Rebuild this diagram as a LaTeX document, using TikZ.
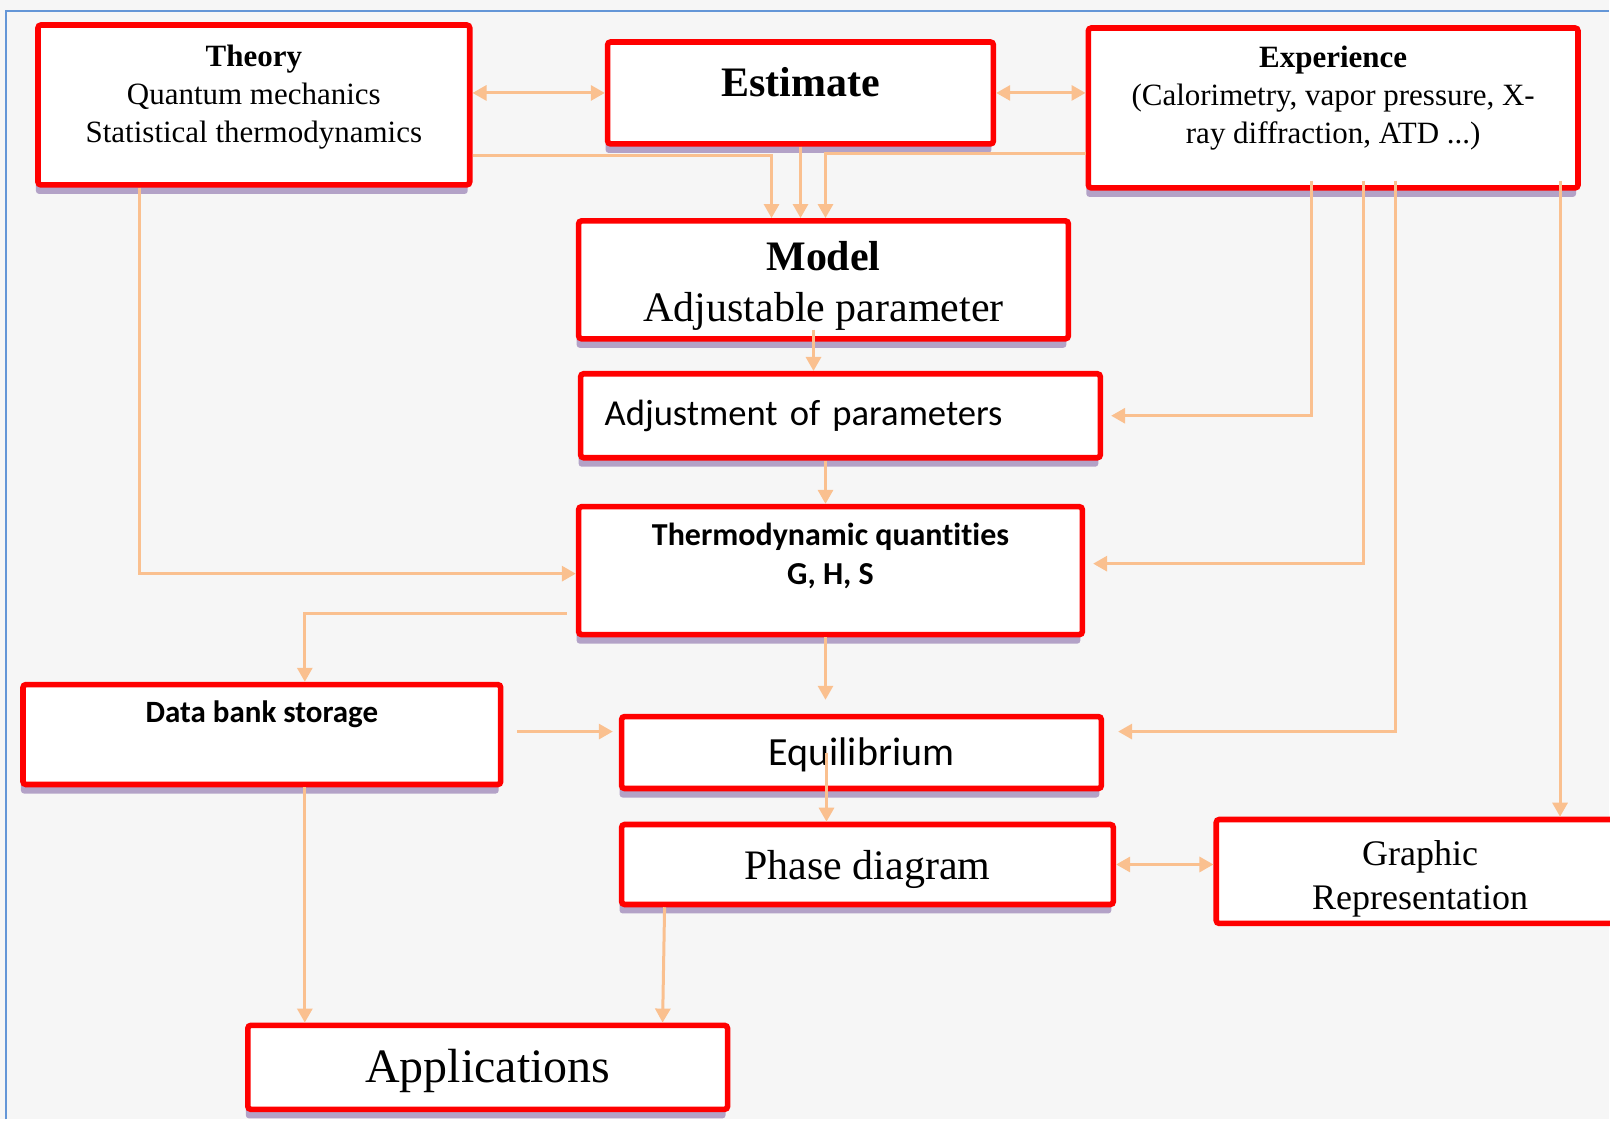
\documentclass[tikz,border=0pt]{standalone}
\usepackage{fontspec}
\setmainfont{Liberation Serif}
\newfontfamily\calibri[Ligatures=NoCommon]{Carlito}
\usetikzlibrary{arrows.meta,shadows}
\definecolor{boxred}{RGB}{255,0,0}
\definecolor{linkorange}{RGB}{250,192,143}
\definecolor{shadowpurple}{RGB}{179,162,199}
\definecolor{pagegray}{RGB}{246,246,246}
\definecolor{frameblue}{RGB}{100,150,215}

\begin{document}
\begin{tikzpicture}[x=0.5pt,y=-0.5pt,
    flatbox/.style={draw=boxred, line width=2.8pt, rounded corners=1.5pt, fill=white,
      inner sep=0pt, align=center},
    box/.style={flatbox,
      drop shadow={shadow xshift=-1pt, shadow yshift=-4.5pt, fill=shadowpurple, opacity=1}},
    link/.style={draw=linkorange, line width=1.5pt, -{Triangle[length=7pt,width=7.5pt]}},
    dlink/.style={link, {Triangle[length=7pt,width=7.5pt]}-{Triangle[length=7pt,width=7.5pt]}}]
    \fill[pagegray] (0,0) rectangle (1610,1120);
    \draw[frameblue, line width=1pt] (6,1120) -- (6,11) -- (1610,11);
    \useasboundingbox (0,0) rectangle (1610,1120);

    \node[box, minimum width=216pt, minimum height=80pt, text depth=11pt,
      font=\fontsize{15.5}{19}\selectfont] (theory) at (254,105)
      {\textbf{Theory}\\Quantum mechanics\\Statistical thermodynamics};
    \node[box, minimum width=193pt, minimum height=51pt, text depth=11pt,
      font=\fontsize{21}{25}\selectfont\bfseries] (estimate) at (801,93) {Estimate};
    \node[box, minimum width=245pt, minimum height=80pt, text depth=13pt,
      font=\fontsize{15.5}{19}\selectfont] (experience) at (1334,108)
      {\textbf{Experience}\\(Calorimetry, vapor pressure, X-\\ray diffraction, ATD ...)};
    \node[box, minimum width=245pt, minimum height=59pt, text height=46pt,
      font=\fontsize{21}{25.5}\selectfont] (model) at (824,280)
      {\textbf{Model}\\Adjustable parameter};
    \node[box, minimum height=42pt, inner xsep=12pt, text width=236pt, align=left,
      font=\calibri\fontsize{18.3}{22}\selectfont] (adjust) at (841,416)
      {Adjustment of parameters};
    \node[box, minimum width=252pt, minimum height=64pt, text depth=17pt,
      font=\calibri\bfseries\fontsize{16}{19.5}\selectfont] (thermo) at (831,571)
      {Thermodynamic quantities\\G, H, S};
    \node[box, minimum width=239pt, minimum height=50pt, text depth=23pt,
      font=\calibri\bfseries\fontsize{15.5}{19}\selectfont] (databank) at (262,735)
      {Data bank storage};
    \node[box, minimum width=240pt, minimum height=36pt, text depth=1pt,
      font=\calibri\fontsize{20}{24}\selectfont] (equil) at (862,753) {Equilibrium};
    \node[box, minimum width=246pt, minimum height=40pt, text depth=0pt,
      font=\fontsize{21}{25}\selectfont] (phase) at (868,865) {Phase diagram};
    \node[flatbox, minimum width=204pt, minimum height=52pt, text height=38pt, text depth=0pt,
      font=\fontsize{18}{22}\selectfont] (graphic) at (1421,872) {Graphic\\Representation};
    \node[box, minimum width=240pt, minimum height=42pt, text depth=2pt,
      font=\fontsize{24}{28}\selectfont] (apps) at (488,1068) {Applications};

    \draw[dlink] (theory.east |- estimate.west) -- (estimate.west);
    \draw[dlink] (estimate.east) -- (estimate.east -| experience.west);
    \draw[link] ([yshift=-25.5pt]theory.east) -| ([xshift=-26pt]model.north);
    \draw[link] (estimate.south) -- (estimate.south |- model.north);
    \draw[link] ([yshift=-23pt]experience.west) -| ([xshift=1pt]model.north);
    \draw[link] ([xshift=-5pt,yshift=6pt]model.south) -- ([xshift=-5pt]model.south |- adjust.north);
    \draw[link] ([xshift=-11pt,yshift=5pt]experience.south) |- ([xshift=4pt]adjust.east);
    \draw[link] ([xshift=-7.5pt]adjust.south) -- ([xshift=-7.5pt]adjust.south |- thermo.north);
    \draw[link] ([xshift=15pt,yshift=5pt]experience.south) |- ([shift={(4pt,3.5pt)}]thermo.east);
    \draw[link] ([xshift=-57pt]theory.south) |- ([yshift=-1.5pt]thermo.west);
    \draw[link] ([shift={(-4.5pt,-21.5pt)}]thermo.west) -| ([xshift=21.5pt]databank.north);
    \draw[link, shorten >=7pt] ([xshift=-2.5pt]thermo.south) -- ([xshift=-2.5pt]thermo.south |- equil.north);
    \draw[link] ([xshift=31pt,yshift=5pt]experience.south) |- ([shift={(7pt,10.5pt)}]equil.east);
    \draw[link, shorten >=3pt] ([shift={(7pt,1.5pt)}]databank.east) -- ([yshift=1.5pt]databank.east -| equil.west);
    \draw[link] ([xshift=-17.5pt]equil.center) -- ([xshift=-20.5pt]phase.north);
    \draw[link] ([xshift=113.5pt,yshift=5pt]experience.south) -- ([xshift=113.5pt]experience.south |- graphic.north);
    \draw[dlink] (phase.east) -- (phase.east -| graphic.west);
    \draw[link] ([xshift=21.5pt]databank.south) -- ([xshift=21.5pt]databank.south |- apps.north);
    \draw[link] ([xshift=-101.5pt]phase.south) -- ([xshift=87.5pt]apps.north);
\end{tikzpicture}
\end{document}
